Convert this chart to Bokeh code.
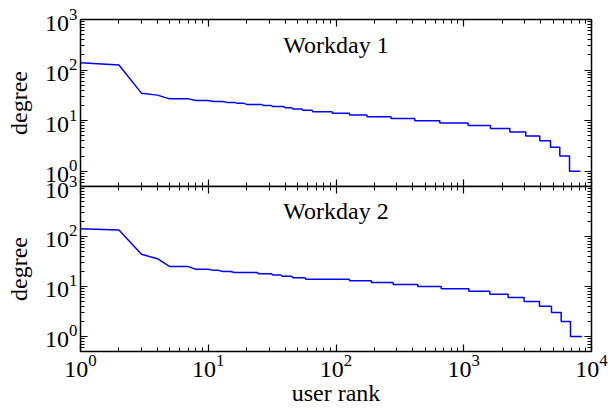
from bokeh.plotting import figure
from bokeh.layouts import column
from bokeh.models import LogAxis, Range1d, CustomJSTickFormatter, FixedTicker, Label, ColumnDataSource
from bokeh.embed import file_html
from bokeh.resources import INLINE

# ---- data ----
panel_titles = ["Workday 1", "Workday 2"]

top_start_rank = [1, 2, 3, 4, 5, 8, 11, 14, 17, 20, 27, 32, 40, 46, 55, 66, 94, 128, 175,
                  270, 414, 650, 1083, 1620, 2296, 3060, 3940, 4776, 5650, 6730]
top_degree = [140, 126, 35, 32, 27, 25, 24, 23, 22, 21, 20, 19, 18, 17, 16, 15, 14, 13, 12,
              11, 10, 9, 8, 7, 6, 5, 4, 3, 2, 1]
top_last_rank = 8200

bot_start_rank = [1, 2, 3, 4, 5, 8, 11, 13, 16, 25, 32, 38, 46, 58, 128, 190, 281, 437, 666,
                  1097, 1600, 2228, 2970, 3917, 4863, 5790, 6850]
bot_degree = [143, 135, 44, 36, 25, 22, 21, 20, 19, 18, 17, 16, 15, 14, 13, 12, 11, 10, 9,
              8, 7, 6, 5, 4, 3, 2, 1]
bot_last_rank = 8450

x_major_ticks = [1, 10, 100, 1000, 10000]
y_major_ticks = [1, 10, 100, 1000]
x_label = "user rank"
y_label = "degree"

FONT = "Liberation Serif"
OVERLAP = 14


def rank_curve(starts, degs, last):
    ends = [s - 1 for s in starts[1:]] + [last]
    xs, ys = [], []
    for s, e, d in zip(starts, ends, degs):
        xs.append(s)
        ys.append(d)
        if e > s:
            xs.append(e)
            ys.append(d)
    return xs, ys


def minor_of(major, lo, hi):
    out = []
    for m in major + [major[0] / 10]:
        for k in range(2, 10):
            v = m * k
            if lo <= v <= hi and v not in major:
                out.append(v)
    return sorted(out)


def style_axis(ax, labels=True):
    ax.axis_line_color = "black"
    ax.axis_line_width = 1.5
    ax.major_tick_line_color = "black"
    ax.major_tick_line_width = 1.2
    ax.minor_tick_line_color = "black"
    ax.minor_tick_line_width = 1
    ax.major_tick_in = 7
    ax.major_tick_out = 0
    ax.minor_tick_in = 4
    ax.minor_tick_out = 0
    ax.major_label_text_font = FONT
    ax.major_label_text_font_size = "24px"
    ax.major_label_text_color = "black"
    ax.axis_label_text_font = FONT
    ax.axis_label_text_font_size = "24px"
    ax.axis_label_text_font_style = "normal"
    ax.axis_label_text_color = "black"
    if not labels:
        ax.formatter = CustomJSTickFormatter(code="return ''")
        ax.major_label_text_font_size = "1px"
        ax.major_label_standoff = 0


def make_panel(xs, ys, title, height, top_border, bottom_labels, **kw):
    p = figure(width=608, height=height, x_axis_type="log", y_axis_type="log",
               x_range=Range1d(1, 1e4), y_range=Range1d(0.5, 1000),
               x_axis_location=None, y_axis_location=None,
               output_backend="svg", toolbar_location=None,
               min_border_left=80, min_border_right=17,
               min_border_top=top_border, min_border_bottom=0, **kw)
    p.outline_line_color = None
    p.grid.visible = False
    p.background_fill_color = "white"

    xt = FixedTicker(ticks=x_major_ticks, minor_ticks=minor_of(x_major_ticks, 1, 1e4))
    yt = FixedTicker(ticks=y_major_ticks, minor_ticks=minor_of(y_major_ticks, 0.5, 1000))

    left = LogAxis(ticker=yt, axis_label=y_label)
    style_axis(left)
    left.major_label_standoff = 3
    left.axis_label_standoff = 10
    p.add_layout(left, "left")

    right = LogAxis(ticker=yt)
    style_axis(right, labels=False)
    p.add_layout(right, "right")

    top = LogAxis(ticker=xt)
    style_axis(top, labels=False)
    p.add_layout(top, "above")

    if bottom_labels:
        bottom = LogAxis(ticker=xt, axis_label=x_label)
        style_axis(bottom)
        bottom.major_label_standoff = 3
        bottom.axis_label_standoff = 0
    else:
        bottom = LogAxis(ticker=xt)
        style_axis(bottom, labels=False)
    p.add_layout(bottom, "below")

    src = ColumnDataSource(dict(x=xs, y=ys))
    p.line("x", "y", source=src, line_color="#0000ff", line_width=1.5)

    p.add_layout(Label(x=100, y=320, text=title, text_align="center",
                       text_baseline="middle", text_font=FONT,
                       text_font_size="24px", text_color="black"))
    return p


tx, ty = rank_curve(top_start_rank, top_degree, top_last_rank)
bx, by = rank_curve(bot_start_rank, bot_degree, bot_last_rank)

p1 = make_panel(tx, ty, panel_titles[0], 186, 19, False)
p1.border_fill_color = "white"
p2 = make_panel(bx, by, panel_titles[1], 222 + OVERLAP, OVERLAP, True,
                margin=(-OVERLAP, 0, 0, 0))
p2.border_fill_color = None

layout = column(p1, p2, spacing=0)
open("out.html", "w").write(file_html(layout, INLINE))
